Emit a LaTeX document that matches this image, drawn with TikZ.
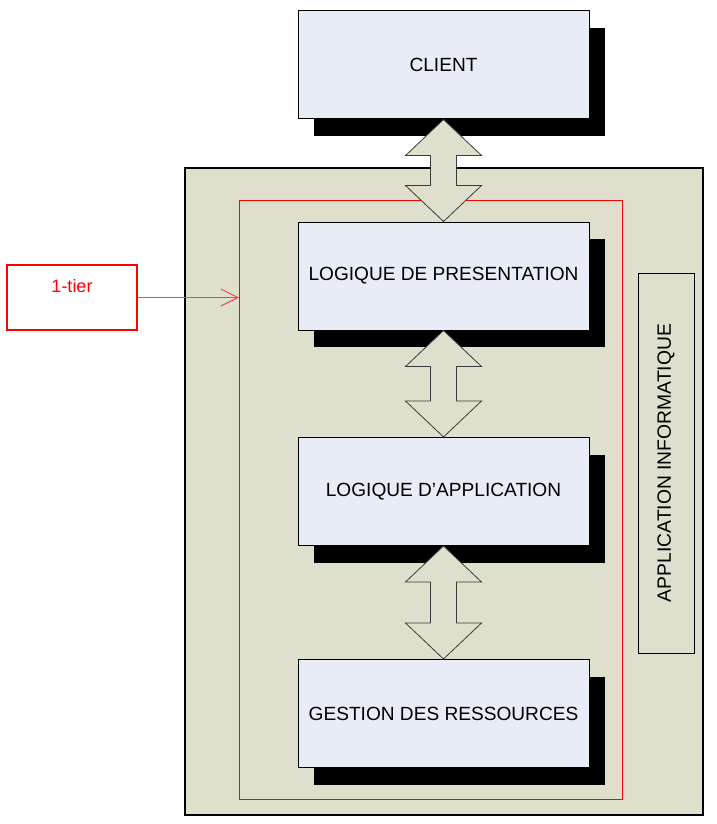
\documentclass[tikz,border=0pt]{standalone}
\usepackage{fontspec}
\setmainfont{Liberation Sans}
\usetikzlibrary{calc,shadows,arrows.meta}

\definecolor{layerfill}{HTML}{E8ECF6}
\definecolor{panelfill}{HTML}{DEDFCD}
\definecolor{arrowline}{HTML}{3A3A3A}

\tikzset{
  layer/.style={draw=black, line width=1pt, fill=layerfill,
    minimum width=291pt, minimum height=108pt, inner sep=0pt,
    font=\fontsize{19.1}{22}\selectfont,
    drop shadow={shadow xshift=16pt, shadow yshift=-17pt, fill=black, opacity=1}},
  panel/.style={draw=black, line width=1.3pt, fill=panelfill, inner sep=0pt},
  tierframe/.style={draw=red, line width=1pt, inner sep=0pt},
  tierbox/.style={draw=red, line width=1.3pt, fill=white, inner sep=0pt,
    minimum width=130pt, minimum height=65pt},
  sidebox/.style={draw=black, line width=1pt, inner sep=0pt, rotate=90,
    minimum width=380pt, minimum height=56pt,
    font=\fontsize{19.3}{22}\selectfont},
  tierarrow/.style={draw=red!75, line width=0.9pt,
    -{Straight Barb[length=17pt, width=17pt, line width=0.9pt]}},
  flow/.style={draw=arrowline, line width=0.8pt, fill=panelfill, line join=miter}
}

% two-way arrow between the bottom of one layer and the top of the next
\newcommand{\twoway}[2]{%
  \path[flow] (#1.south)
    -- ($(#1.south)+(38,36)$) -- ($(#1.south)+(13,36)$)
    -- ($(#2.north)+(13,-36)$) -- ($(#2.north)+(38,-36)$)
    -- (#2.north)
    -- ($(#2.north)+(-38,-36)$) -- ($(#2.north)+(-13,-36)$)
    -- ($(#1.south)+(-13,36)$) -- ($(#1.south)+(-38,36)$)
    -- cycle;}

\begin{document}
\begin{tikzpicture}[x={(1pt,0)}, y={(0,-1pt)}]
  \useasboundingbox (0,0) rectangle (716,824);

  % application panel and the 1-tier frame
  \node[panel, minimum width=518pt, minimum height=647pt] (appl) at (444,491.5) {};
  \node[tierframe, minimum width=382.5pt, minimum height=599pt] (onetier) at (430.75,499.5) {};

  % layers
  \node[layer] (client) at (443.5,65) {CLIENT};
  \node[layer] (pres) at (443.5,276) {LOGIQUE DE PRESENTATION};
  \node[layer] (logic) at (443.5,491.5) {LOGIQUE D'APPLICATION};
  \node[layer] (res) at (443.5,713.5) {GESTION DES RESSOURCES};

  % two-way exchanges between layers
  \twoway{client}{pres}
  \twoway{pres}{logic}
  \twoway{logic}{res}

  % side caption
  \node[sidebox] (side) at (666,463) {APPLICATION INFORMATIQUE};

  % 1-tier label
  \node[tierbox] (tier) at (72,297.5) {};
  \node[text=red, font=\fontsize{18}{22}\selectfont] (tiertext) at ([yshift=11pt]tier.center) {1-tier};
  \draw[tierarrow] (tier.east) -- (tier.east -| onetier.west);
\end{tikzpicture}
\end{document}
